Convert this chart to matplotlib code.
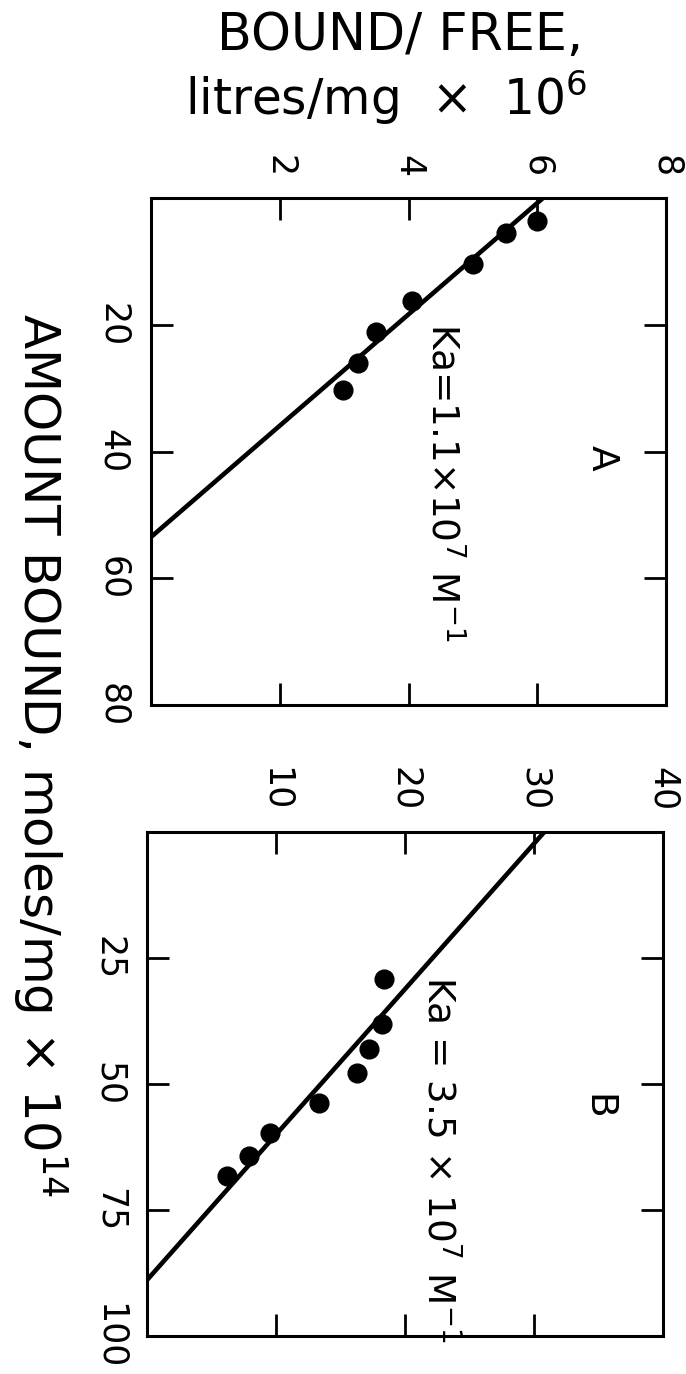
import numpy as np
import matplotlib
matplotlib.use('Agg')
import matplotlib.pyplot as plt

# Scatchard data, drawn turned a quarter turn clockwise.
# bound/free in litres/mg x 1e6, amount bound in moles/mg x 1e14
A_BOUND_FREE = [5.99, 5.52, 5.00, 4.05, 3.49, 3.22, 2.99]
A_AMOUNT = [3.6, 5.5, 10.4, 16.2, 21.2, 26.0, 30.3]
A_FIT_BF0 = 6.09     # bound/free at zero amount bound
A_FIT_N = 53.5       # amount bound where bound/free reaches zero

B_BOUND_FREE = [18.4, 18.2, 17.2, 16.3, 13.3, 9.5, 7.9, 6.2]
B_AMOUNT = [29.2, 38.0, 43.0, 47.9, 53.8, 59.7, 64.3, 68.2]
B_FIT_BF0 = 30.8
B_FIT_N = 88.9

A_BF_TICKS = [2, 4, 6, 8]
A_AMT_TICKS = [20, 40, 60, 80]
B_BF_TICKS = [10, 20, 30, 40]
B_AMT_TICKS = [25, 50, 75, 100]

W, H = 686, 1374
plt.rcParams.update({'font.family': 'DejaVu Sans', 'mathtext.fontset': 'dejavusans'})

fig = plt.figure(figsize=(W / 100, H / 100), dpi=100)
fig.patch.set_facecolor('white')


def px_axes(left, top, right, bottom):
    return fig.add_axes([left / W, 1 - bottom / H, (right - left) / W, (bottom - top) / H])


def panel(ax, bf, amt, bf0, n, bf_ticks, amt_ticks, letter, letter_xy, ka_xy, ka_fmt):
    ax.plot(bf, amt, 'o', color='black', markersize=13.5, zorder=3)
    n_line = np.array([0.0, n])
    ax.plot(bf0 * (1 - n_line / n), n_line, color='black', lw=3.3,
            solid_capstyle='butt', zorder=2)

    ax.set_xlim(0, bf_ticks[-1])
    ax.set_ylim(amt_ticks[-1], 0)
    ax.set_xticks(bf_ticks)
    ax.set_yticks(amt_ticks)
    ax.xaxis.tick_top()
    ax.tick_params(axis='both', direction='in', length=16, width=2.0,
                   top=True, bottom=True, left=True, right=True,
                   labeltop=True, labelbottom=False, labelleft=True,
                   labelright=False, labelsize=25, labelrotation=-90, pad=15)
    for lbl in ax.get_yticklabels():
        lbl.set_verticalalignment('center')
    for sp in ax.spines.values():
        sp.set_linewidth(2.2)

    # association constant from the fitted line (units of 1e7 M^-1)
    ka = bf0 / n * 10
    ax.text(*ka_xy, ka_fmt % ka, rotation=-90, ha='center', va='center', fontsize=27)
    ax.text(*letter_xy, letter, rotation=-90, ha='center', va='center', fontsize=27)


axA = px_axes(151, 198, 666, 705)
panel(axA, A_BOUND_FREE, A_AMOUNT, A_FIT_BF0, A_FIT_N, A_BF_TICKS, A_AMT_TICKS,
      'A', (7.0, 41), (4.55, 44.8), r'Ka=%.1f$\times$10$^7$ M$^{-1}$')

axB = px_axes(147, 832, 663, 1336)
panel(axB, B_BOUND_FREE, B_AMOUNT, B_FIT_BF0, B_FIT_N, B_BF_TICKS, B_AMT_TICKS,
      'B', (34.9, 54.6), (22.7, 65.0), r'Ka = %.1f $\times$ 10$^7$ M$^{-1}$')

fig.text(400 / W, 1 - 50 / H, 'BOUND/ FREE,', ha='center', va='baseline', fontsize=36.5)
fig.text(185 / W, 1 - 115 / H, r'litres/mg  $\times$  10$^{6}$', ha='left',
         va='baseline', fontsize=35)
fig.text(40 / W, 1 - 755 / H, r'AMOUNT BOUND, moles/mg $\times$ 10$^{14}$',
         rotation=-90, ha='center', va='center', fontsize=36)

fig.savefig('out.png', dpi=100, facecolor='white')
